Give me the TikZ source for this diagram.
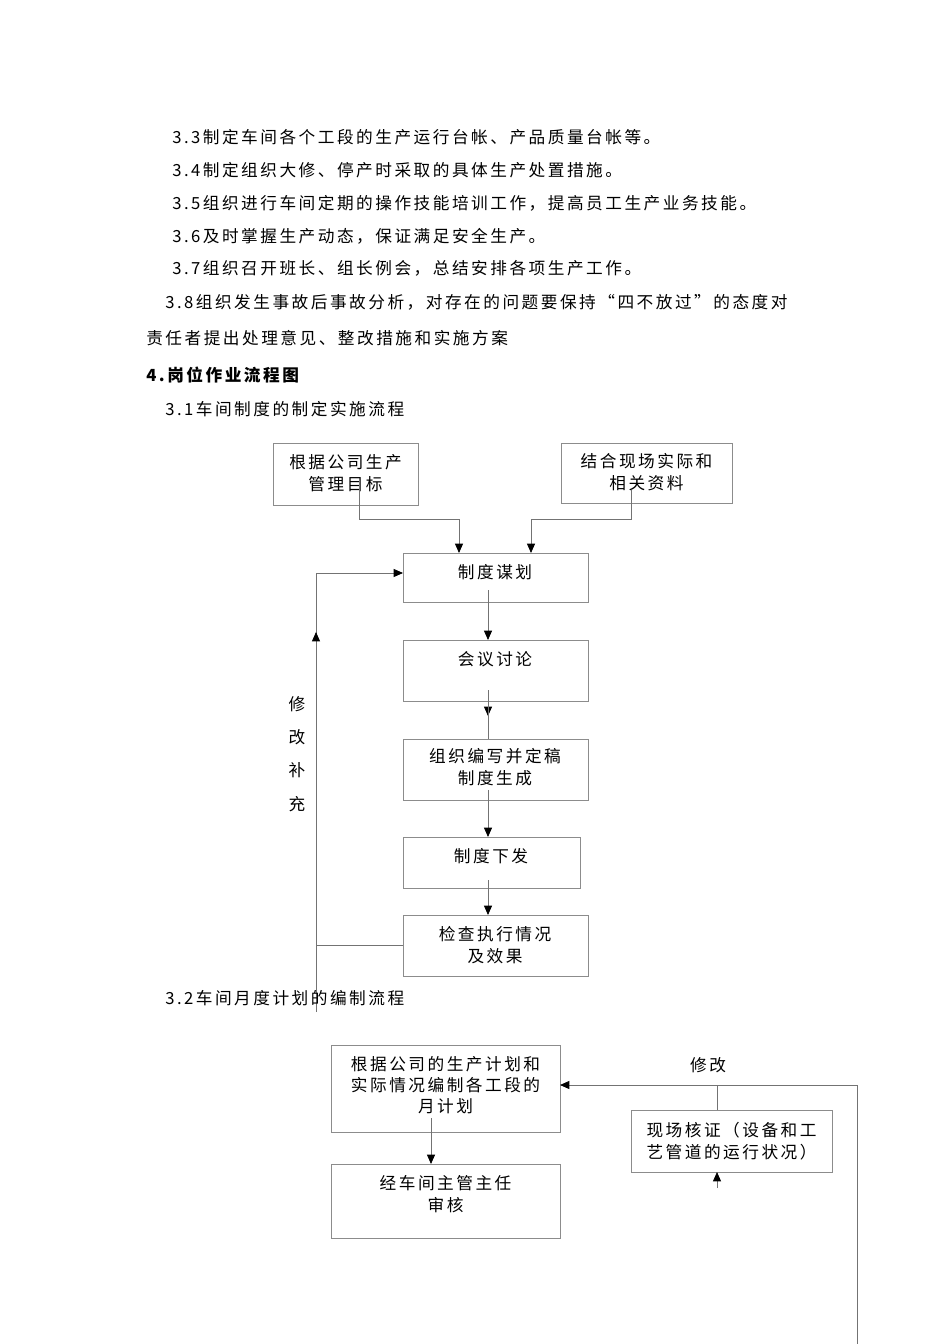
\documentclass[tikz,border=0pt]{standalone}
\usepackage{fontspec}
\setmainfont{Noto Sans CJK SC}[LetterSpace=15]
\usetikzlibrary{arrows.meta}
\begin{document}
\begin{tikzpicture}[x=0.75pt,y=-0.75pt,
  font=\fontsize{12.5pt}{16pt}\selectfont,
  bx/.style={draw=black!45,line width=0.6pt},
  ln/.style={draw=black!55,line width=0.6pt},
  ar/.style={ln,-{Triangle[length=7pt,width=6pt,fill=black,color=black]}},
  txt/.style={anchor=west,inner sep=0pt}]
\useasboundingbox (0,0) rectangle (950,1344);
\node[txt] (t1) at (172,137) {3.3制定车间各个工段的生产运行台帐、产品质量台帐等。};
\node[txt] (t2) at (172,170) {3.4制定组织大修、停产时采取的具体生产处置措施。};
\node[txt] (t3) at (172,203) {3.5组织进行车间定期的操作技能培训工作，提高员工生产业务技能。};
\node[txt] (t4) at (172,236) {3.6及时掌握生产动态，保证满足安全生产。};
\node[txt] (t5) at (172,268) {3.7组织召开班长、组长例会，总结安排各项生产工作。};
\node[txt] (t6) at (165,302) {3.8组织发生事故后事故分析，对存在的问题要保持“四不放过”的态度对};
\node[txt] (t7) at (146,338) {责任者提出处理意见、整改措施和实施方案};
\node[txt,font=\fontsize{12.5pt}{16pt}\selectfont\bfseries] (h4) at (146,375) {4.岗位作业流程图};
\node[txt] (s1) at (165,409) {3.1车间制度的制定实施流程};
% boxes section 1
\draw[bx] (273,443) rectangle (418,505); \node (A) at (345.5,473) [align=center] {根据公司生产\\管理目标};
\draw[bx] (561,443) rectangle (732,503); \node (B) at (646.5,472) [align=center] {结合现场实际和\\相关资料};
\draw[bx] (403,553) rectangle (588,602); \node (C) at (495,572) {制度谋划};
\draw[bx] (403,640) rectangle (588,701); \node (D) at (495,659) {会议讨论};
\draw[bx] (403,739) rectangle (588,800); \node (E) at (495,767) [align=center] {组织编写并定稿\\制度生成};
\draw[bx] (403,837) rectangle (580,888); \node (F) at (491,856) {制度下发};
\draw[bx] (403,915) rectangle (588,976); \node (G) at (495,945) [align=center] {检查执行情况\\及效果};
\draw[ar] (359,480) -- (359,519) -- (459,519) -- (459,553);
\draw[ar] (631,490) -- (631,519) -- (531,519) -- (531,553);
\draw[ar] (488,590) -- (488,640);
\draw[ar] (488,690) -- (488,716);
\draw[ln] (488,701) -- (488,739);
\draw[ar] (488,790) -- (488,837);
\draw[ar] (488,880) -- (488,915);
\draw[ln] (403,945) -- (316,945);
\draw[ln] (316,1012) -- (316,630);
\draw[ar] (316,700) -- (316,632);
\draw[ar] (316,632) -- (316,573) -- (403,573);
\node[align=center,font=\fontsize{12.5pt}{25pt}\selectfont] (lab1) at (297,754) {修\\改\\补\\充};
\node[txt] (s2) at (165,998) {3.2车间月度计划的编制流程};
% section 2
\draw[bx] (331,1045) rectangle (560,1132); \node (H) at (445.5,1085) [align=center] {根据公司的生产计划和\\实际情况编制各工段的\\月计划};
\draw[bx] (331,1164) rectangle (560,1238); \node (I) at (445.5,1194) [align=center] {经车间主管主任\\审核};
\draw[bx] (631,1110) rectangle (832,1172); \node (J) at (731.5,1141) [align=center] {现场核证（设备和工\\艺管道的运行状况）};
\draw[ar] (431,1118) -- (431,1164);
\draw[ar] (857,1344) -- (857,1085) -- (560,1085);
\draw[ln] (717,1110) -- (717,1085);
\draw[ar] (717,1188) -- (717,1172);
\node (lab2) at (708,1065) {修改};
\end{tikzpicture}
\end{document}
